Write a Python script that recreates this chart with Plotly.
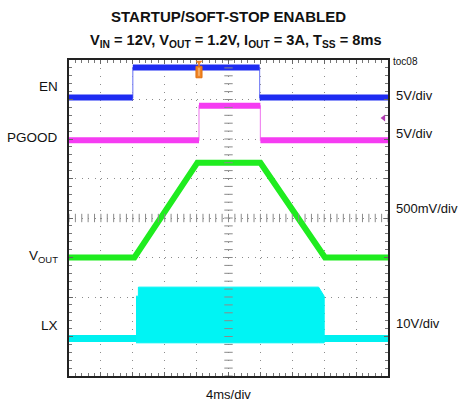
import plotly.graph_objects as go

# ---- waveform data (time in ms, amplitude in volts) ----
en_t = [0, 8.0, 8.0, 23.9, 23.9, 40]
en_v = [0, 0, 3.8, 3.8, 0, 0]

pg_t = [0, 16.3, 16.3, 24.0, 24.0, 40]
pg_v = [0, 0, 4.35, 4.35, 0, 0]

vout_t = [0, 8.2, 16.1, 24.0, 32.1, 40]
vout_v = [0, 0, 1.2, 1.2, 0, 0]

lx_t = [0, 40]
lx_v = [0, 0]
lx_sw_t = [8.4, 8.7, 8.7, 31.3, 32.0, 32.0]
lx_sw_hi = [10.7, 10.7, 13.0, 13.0, 10.7, -1.1]
lx_sw_lo = -1.1

# ---- channel settings: volts per division and screen offset (divisions) ----
EN_SCALE, EN_OFF = 5.0, 3.05
PG_SCALE, PG_OFF = 5.0, 1.97
VO_SCALE, VO_OFF = 0.5, -1.0
LX_SCALE, LX_OFF = 10.0, -3.05

TRIG_T = 16.3
TRIG_LEVEL_DIV = 2.53

FONT = "Liberation Sans, Arial, sans-serif"
ORANGE = "#f08424"


def to_div(vals, scale, off):
    return [None if v is None else v / scale + off for v in vals]


def flat_only(t, y):
    """Break the trace at vertical transitions so only level segments remain."""
    xs, ys = [t[0]], [y[0]]
    for i in range(1, len(t)):
        if t[i] == t[i - 1]:
            xs.append(None)
            ys.append(None)
        xs.append(t[i])
        ys.append(y[i])
    return xs, ys


fig = go.Figure()


def digital(t, v, scale, off, color, edge_color):
    y = to_div(v, scale, off)
    fig.add_trace(go.Scatter(x=t, y=y, mode="lines",
                             line=dict(color=edge_color, width=1.2),
                             hoverinfo="skip", showlegend=False))
    fx, fy = flat_only(t, y)
    fig.add_trace(go.Scatter(x=fx, y=fy, mode="lines",
                             line=dict(color=color, width=6),
                             connectgaps=False, hoverinfo="skip", showlegend=False))


# LX: idle baseline plus switching envelope
fig.add_trace(go.Scatter(x=lx_t, y=to_div(lx_v, LX_SCALE, LX_OFF), mode="lines",
                         line=dict(color="#00f0f0", width=7),
                         hoverinfo="skip", showlegend=False))
env_x = lx_sw_t + lx_sw_t[::-1]
env_y = to_div(lx_sw_hi + [lx_sw_lo] * len(lx_sw_t), LX_SCALE, LX_OFF)
fig.add_trace(go.Scatter(x=env_x, y=env_y, mode="lines", fill="toself",
                         fillcolor="#00f4f4", line=dict(color="#00f4f4", width=1),
                         hoverinfo="skip", showlegend=False))

# VOUT soft-start / soft-stop ramp
fig.add_trace(go.Scatter(x=vout_t, y=to_div(vout_v, VO_SCALE, VO_OFF), mode="lines",
                         line=dict(color="#1fec1f", width=6),
                         hoverinfo="skip", showlegend=False))

digital(pg_t, pg_v, PG_SCALE, PG_OFF, "#f53cf2", "#f08af0")
digital(en_t, en_v, EN_SCALE, EN_OFF, "#1e2cf2", "#8088f6")

# center graticule tick marks
minor_x = [i * 0.8 for i in range(51)]
minor_y = [-4 + i * 0.2 for i in range(41)]
fig.add_trace(go.Scatter(x=minor_x, y=[0] * len(minor_x), mode="markers",
                         marker=dict(symbol="line-ns", size=6,
                                     line=dict(color="#8a8a8a", width=1)),
                         hoverinfo="skip", showlegend=False))
fig.add_trace(go.Scatter(x=[20] * len(minor_y), y=minor_y, mode="markers",
                         marker=dict(symbol="line-ew", size=6,
                                     line=dict(color="#8a8a8a", width=1)),
                         hoverinfo="skip", showlegend=False))

# trigger level marker (right edge)
fig.add_trace(go.Scatter(x=[39.45], y=[TRIG_LEVEL_DIV], mode="markers",
                         marker=dict(symbol="triangle-left", size=6, color="#b43cb4"),
                         hoverinfo="skip", showlegend=False, cliponaxis=False))

# trigger position marker (top edge): pointer plus tag body
shapes = [
    dict(type="path", xref="x", yref="y", layer="above",
         path=f"M {TRIG_T - 0.45} 3.98 L {TRIG_T + 0.45} 3.98 L {TRIG_T} 3.88 Z",
         fillcolor=ORANGE, line=dict(width=0)),
    dict(type="line", xref="x", yref="y", layer="above",
         x0=TRIG_T, x1=TRIG_T, y0=3.9, y1=3.84, line=dict(color=ORANGE, width=1.5)),
    dict(type="rect", xref="x", yref="y", layer="above",
         x0=TRIG_T - 0.38, x1=TRIG_T + 0.38, y0=3.55, y1=3.84,
         fillcolor=ORANGE, line=dict(color="#e07010", width=1)),
    dict(type="line", xref="x", yref="y", layer="above",
         x0=TRIG_T, x1=TRIG_T, y0=3.6, y1=3.8, line=dict(color="#fbd2a4", width=1)),
]

axis_common = dict(showticklabels=False, showline=True, linecolor="#222222",
                   linewidth=2, mirror="allticks", ticks="inside",
                   tickcolor="#666666", ticklen=4, zeroline=False,
                   showgrid=True, gridcolor="#8c8c8c", gridwidth=1)

fig.update_xaxes(range=[0, 40], dtick=4, tick0=0, griddash="1px,6.9px",
                 minor=dict(dtick=0.8, ticks="inside", ticklen=3,
                            tickcolor="#777777", showgrid=False),
                 **axis_common)
fig.update_yaxes(range=[-4, 4], dtick=1, tick0=0, griddash="1px,5.4px",
                 minor=dict(dtick=0.2, ticks="inside", ticklen=3,
                            tickcolor="#777777", showgrid=False),
                 **axis_common)

ann = []
# channel names
for txt, y in [("EN", 3.32), ("PGOOD", 2.03), ("V<sub>OUT</sub>", -0.98), ("LX", -2.71)]:
    ann.append(dict(text=txt, xref="paper", x=0, xshift=-9, xanchor="right",
                    yref="y", y=y, yanchor="middle", showarrow=False,
                    font=dict(family=FONT, size=13.5, color="#111111")))
# channel scales
for txt, y in [("5V/div", 3.11), ("5V/div", 2.15), ("500mV/div", 0.23), ("10V/div", -2.66)]:
    ann.append(dict(text=txt, xref="paper", x=1, xshift=6, xanchor="left",
                    yref="y", y=y, yanchor="middle", showarrow=False,
                    font=dict(family=FONT, size=13, color="#111111")))
ann.append(dict(text="toc08", xref="paper", x=1, xshift=3, xanchor="left",
                yref="y", y=3.95, yanchor="middle", showarrow=False,
                font=dict(family=FONT, size=10, color="#111111")))
ann.append(dict(text="4ms/div", xref="paper", x=0.5, xanchor="center",
                yref="paper", y=-0.06, yanchor="middle", showarrow=False,
                font=dict(family=FONT, size=13, color="#111111")))
# title
ann.append(dict(text="<b>STARTUP/SOFT-STOP ENABLED</b>", xref="paper", x=0.5,
                xanchor="center", yref="paper", y=(376 - 17) / 316, yanchor="middle",
                showarrow=False, font=dict(family=FONT, size=15, color="#111111")))
ann.append(dict(text="<b>V<sub>IN</sub> = 12V, V<sub>OUT</sub> = 1.2V, "
                     "I<sub>OUT</sub> = 3A, T<sub>SS</sub> = 8ms</b>",
                xref="paper", x=0.5, xshift=7, xanchor="center", yref="paper",
                y=(376 - 41) / 316, yanchor="middle", showarrow=False,
                font=dict(family=FONT, size=14.6, color="#111111")))

fig.update_layout(width=462, height=407,
                  margin=dict(l=69, r=74, t=60, b=31),
                  paper_bgcolor="white", plot_bgcolor="white",
                  annotations=ann, shapes=shapes, showlegend=False)

fig.write_html("out.html")
